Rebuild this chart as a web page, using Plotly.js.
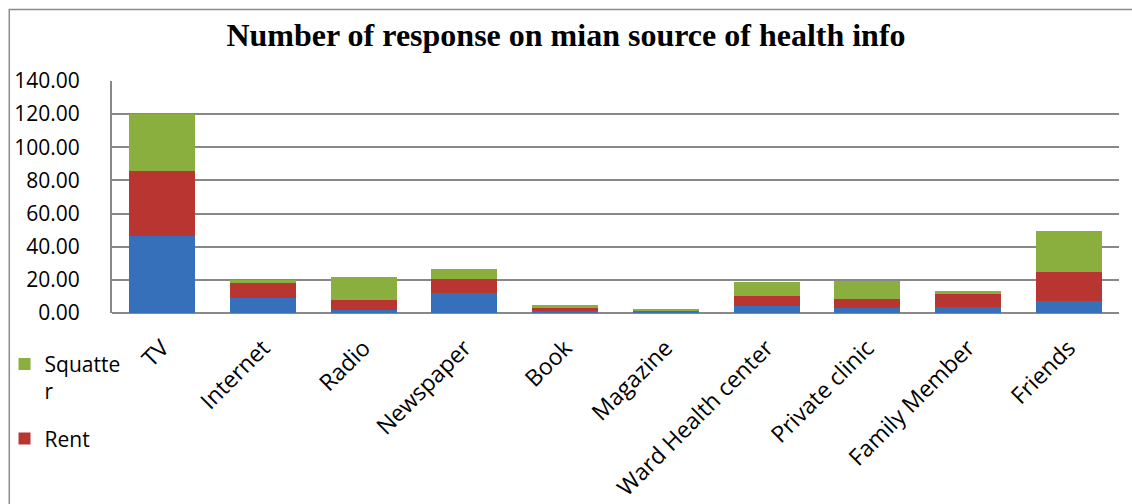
<!DOCTYPE html>
<html>
<head>
<meta charset="utf-8">
<script src="https://cdn.plot.ly/plotly-3.0.1.min.js"></script>
<style>
  html, body { margin: 0; padding: 0; background: #ffffff; }
  #chart { width: 1132px; height: 504px; }
</style>
</head>
<body>
<div id="chart"></div>
<script>
// Main sources of health information, stacked by housing type
const categories = ["TV", "Internet", "Radio", "Newspaper", "Book", "Magazine",
                    "Ward Health center", "Private clinic", "Family Member", "Friends"];
const ownValues      = [46.7, 9.2, 2.0, 12.2, 1.2, 1.4, 4.4, 3.2, 3.8, 7.4];
const rentValues     = [39.0, 9.0, 6.0, 8.4, 2.0, 0.0, 6.0, 5.4, 7.8, 17.5];
const squatterValues = [34.5, 1.8, 13.9, 6.1, 1.8, 1.2, 8.4, 10.8, 1.8, 24.6];
const yTicks = [0, 20, 40, 60, 80, 100, 120, 140];

const labelFont = { family: "Open Sans, sans-serif", size: 21, color: "#000000" };
const categoryFont = { family: "Open Sans, sans-serif", size: 23, color: "#000000" };

const traces = [
  {
    type: "bar", name: "Own", x: categories, y: ownValues,
    marker: { color: "#3670ba" }, showlegend: false, legendgroup: "own"
  },
  {
    type: "bar", name: "Rent", x: categories, y: rentValues,
    marker: { color: "#b83532" }, legendgroup: "rent", legendrank: 2
  },
  {
    type: "bar", name: "Squatte<br>r", x: categories, y: squatterValues,
    marker: { color: "#8aaf3e" }, legendgroup: "squatter", legendrank: 1
  }
];

const layout = {
  width: 1132, height: 504,
  paper_bgcolor: "#ffffff", plot_bgcolor: "#ffffff",
  margin: { l: 112, r: 13, t: 81, b: 191, autoexpand: false },
  barmode: "stack",
  bargap: 0.345,
  title: {
    text: "<b>Number of response on mian source of health info</b>",
    font: { family: "Liberation Serif, Times New Roman, serif", size: 32, color: "#000000" },
    x: 0.5, xref: "container", xanchor: "center",
    y: 0.93, yref: "container", yanchor: "middle"
  },
  xaxis: {
    type: "category",
    tickangle: -45,
    tickfont: categoryFont,
    showgrid: false,
    showline: false,
    ticks: "",
    ticklabelstandoff: 16,
    automargin: false,
    fixedrange: true
  },
  yaxis: {
    range: [0, 140],
    tickvals: yTicks,
    tickformat: ".2f",
    tickfont: labelFont,
    showgrid: true,
    gridcolor: "#888888",
    gridwidth: 2,
    zeroline: true,
    zerolinecolor: "#888888",
    zerolinewidth: 2,
    showline: true,
    linecolor: "#888888",
    linewidth: 2,
    ticks: "",
    ticklabelstandoff: 26,
    automargin: false,
    fixedrange: true
  },
  legend: {
    xref: "container", yref: "container",
    x: 0.004, y: 0.318, xanchor: "left", yanchor: "top",
    traceorder: "grouped",
    tracegroupgap: 17,
    valign: "top",
    font: labelFont,
    bgcolor: "rgba(0,0,0,0)"
  },
  shapes: [
    {
      type: "rect", xref: "paper", yref: "paper",
      x0: -0.1020, x1: 1.02, y0: -0.9, y1: 1.3085,
      line: { color: "#8c8c8c", width: 1.5 },
      fillcolor: "rgba(0,0,0,0)", layer: "below"
    }
  ]
};

Plotly.newPlot("chart", traces, layout, { displayModeBar: false, staticPlot: true });
</script>
</body>
</html>
